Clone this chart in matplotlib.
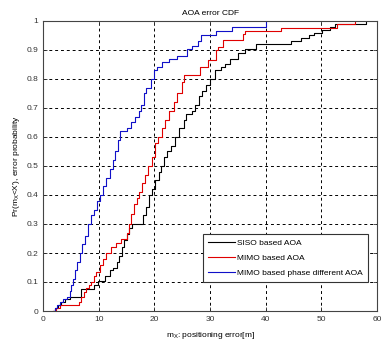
import numpy as np
import matplotlib
matplotlib.use("Agg")
import matplotlib.pyplot as plt

plt.rcParams['font.family'] = ['Liberation Sans', 'DejaVu Sans']
plt.rcParams['mathtext.default'] = 'regular'

siso_x = [1.8, 2.2, 2.7, 3.2, 4.0, 4.9, 6.9, 9.2, 9.8, 11.1, 12.1, 12.5, 13.25, 13.7,
          14.2, 14.6, 15.0, 15.5, 16.0, 17.9, 18.5, 19.1, 19.6, 20.2, 20.8, 21.2, 21.8,
          22.3, 23.0, 23.8, 24.4, 25.3, 25.6, 26.8, 27.3, 28.0, 28.5, 29.2, 30.0, 30.9,
          32.0, 32.7, 33.6, 35.0, 36.2, 38.3, 44.5, 46.3, 47.8, 48.7, 50.2, 51.5, 52.5, 58.1]
siso_y = [0, 0.01, 0.02, 0.03, 0.04, 0.05, 0.075, 0.09, 0.105, 0.12, 0.14, 0.15, 0.17, 0.19,
          0.22, 0.245, 0.265, 0.285, 0.30, 0.33, 0.36, 0.40, 0.42, 0.45, 0.48, 0.5, 0.53,
          0.55, 0.57, 0.6, 0.63, 0.66, 0.68, 0.69, 0.71, 0.74, 0.76, 0.78, 0.80, 0.83,
          0.84, 0.85, 0.87, 0.89, 0.905, 0.92, 0.93, 0.94, 0.95, 0.96, 0.97, 0.98, 0.99, 1.0]

mimo_x = [1.8, 2.3, 3.0, 6.5, 6.9, 7.4, 7.8, 8.3, 8.7, 9.2, 9.6, 10.2, 10.7, 11.4, 12.25,
          13.1, 14.0, 15.1, 15.4, 15.8, 16.4, 16.9, 17.3, 17.8, 18.3, 18.8, 19.6, 20.2,
          20.6, 21.3, 22.0, 22.6, 23.5, 24.1, 25.0, 25.4, 28.2, 29.7, 31.0, 31.5, 32.4,
          35.9, 36.2, 42.7, 52.8, 56.0]
mimo_y = [0, 0.01, 0.02, 0.03, 0.05, 0.065, 0.08, 0.09, 0.10, 0.12, 0.135, 0.16, 0.18, 0.2, 0.22,
          0.235, 0.25, 0.27, 0.30, 0.335, 0.37, 0.39, 0.41, 0.44, 0.47, 0.50, 0.53, 0.58,
          0.6, 0.63, 0.66, 0.69, 0.72, 0.75, 0.79, 0.815, 0.84, 0.865, 0.90, 0.91, 0.935,
          0.955, 0.965, 0.977, 0.99, 1.0]

phase_x = [1.8, 2.2, 2.5, 3.0, 3.6, 4.3, 4.9, 5.0, 5.3, 5.7, 6.1, 6.6, 7.0, 7.5, 8.1, 8.6,
           9.2, 9.7, 10.2, 10.8, 11.4, 12.0, 12.5, 12.9, 13.4, 13.8, 15.0, 15.8, 16.5, 17.2,
           17.6, 18.2, 18.5, 19.4, 20.0, 20.5, 21.3, 22.6, 24.1, 25.9, 26.75, 27.9, 28.3,
           31.0, 34.0, 40.1]
phase_y = [0, 0.01, 0.02, 0.03, 0.04, 0.05, 0.07, 0.09, 0.11, 0.14, 0.17, 0.2, 0.23, 0.26, 0.3, 0.33,
           0.35, 0.38, 0.4, 0.43, 0.46, 0.49, 0.52, 0.55, 0.59, 0.62, 0.63, 0.65, 0.67, 0.69,
           0.71, 0.75, 0.77, 0.80, 0.83, 0.84, 0.857, 0.868, 0.88, 0.903, 0.914, 0.931, 0.95,
           0.965, 0.98, 1.0]

labels = ['SISO based AOA', 'MIMO based AOA', 'MIMO based phase different AOA']
colors = ['black', '#e00000', '#1010c8']

fig = plt.figure(figsize=(3.82, 3.44), dpi=100)
ax = fig.add_axes([43 / 382, 33 / 344, 334 / 382, 290 / 344])

for xs, ys, lab, c in zip([siso_x, mimo_x, phase_x], [siso_y, mimo_y, phase_y], labels, colors):
    ax.step(xs, ys, where='post', color=c, lw=0.8, label=lab)

ax.set_xlim(0, 60)
ax.set_ylim(0, 1)
ax.set_xticks(np.arange(0, 61, 10))
ax.set_yticks(np.arange(0, 1.01, 0.1))
ax.set_yticklabels(['0', '0.1', '0.2', '0.3', '0.4', '0.5', '0.6', '0.7', '0.8', '0.9', '1'])
ax.tick_params(direction='in', labelsize=6, length=3, width=0.6, colors='#333333',
               top=True, right=True)
ax.grid(True, color='black', linestyle=(0, (3, 3)), linewidth=0.7)
for s in ax.spines.values():
    s.set_linewidth(0.8)
    s.set_color('#444444')

ax.set_title('AOA error CDF', fontsize=6, pad=4)
ax.set_xlabel('m$_X$: positioning error[m]', fontsize=6, labelpad=5)
ax.set_ylabel("Pr(m$_X$<X'), error probability", fontsize=6, labelpad=3)

leg = ax.legend(loc='lower right', fontsize=6, bbox_to_anchor=(0.985, 0.085),
                fancybox=False, framealpha=1, edgecolor='#333333', handlelength=3.2,
                handletextpad=0.3, borderpad=0.6, labelspacing=0.9)
leg.get_frame().set_linewidth(0.8)

fig.savefig('out.png', dpi=100)
